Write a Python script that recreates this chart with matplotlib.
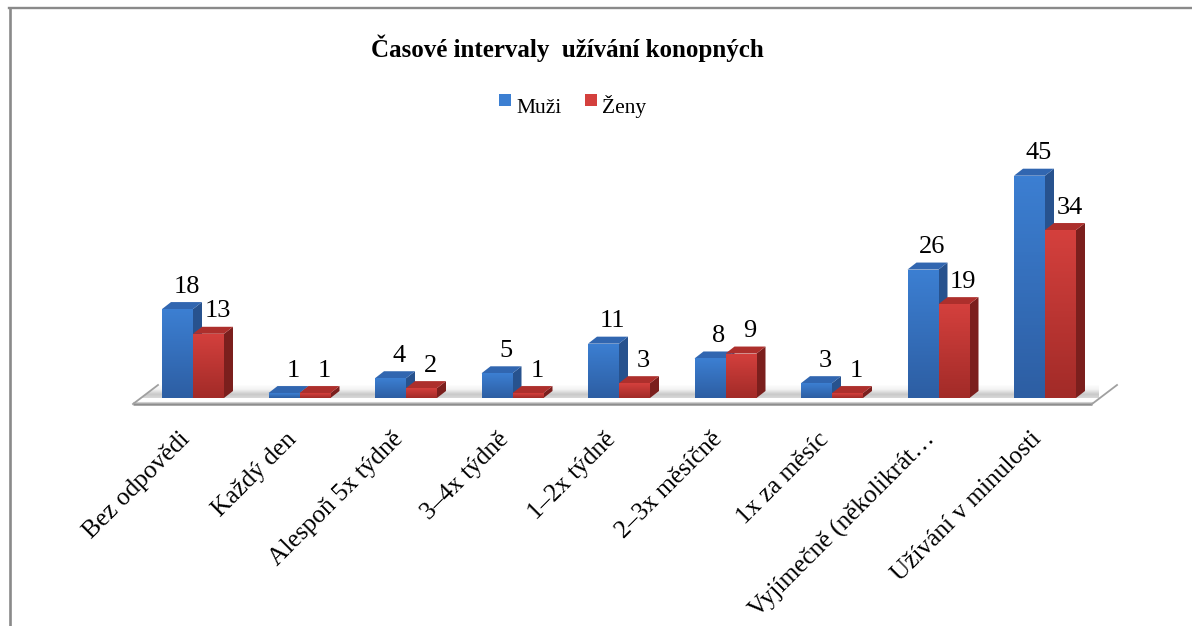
import numpy as np
import matplotlib
matplotlib.use('Agg')
import matplotlib.pyplot as plt
from matplotlib.patches import Polygon, Rectangle
from matplotlib.lines import Line2D
from matplotlib.colors import LinearSegmentedColormap

# ---------------- data ----------------
categories = ["Bez odpovědi", "Každý den", "Alespoň 5x týdně", "3–4x týdně",
              "1–2x týdně", "2–3x měsíčně", "1x za měsíc",
              "Vyjímečně (několikrát…", "Užívání v minulosti"]
muzi = [18, 1, 4, 5, 11, 8, 3, 26, 45]
zeny = [13, 1, 2, 1, 3, 9, 1, 19, 34]
series_names = ["Muži", "Ženy"]
chart_title = "Časové intervaly  užívání konopných"

plt.rcParams['font.family'] = ['Liberation Serif', 'DejaVu Serif']

W, H = 1192, 626
fig = plt.figure(figsize=(W / 100, H / 100), dpi=100)
fig.patch.set_facecolor('white')

ax = fig.add_axes([140.75 / W, 228 / H, 958.5 / W, 247 / H])
ax.set_xlim(-0.5, 8.5)
ax.set_ylim(0, 50)
for s in ax.spines.values():
    s.set_visible(False)
ax.set_yticks([])
ax.patch.set_alpha(0)


def px2data(dxp, dyp):
    inv = ax.transData.inverted()
    p0 = inv.transform((0, 0))
    p1 = inv.transform((dxp, dyp))
    return p1 - p0


ddx, ddy = px2data(9, 7)
fx, fy = px2data(1, 1)

# ---------------- floor ----------------
fl_front = -6 * fy
fl_back = 13 * fy
fl_x0 = -0.5 + (140.75 - 133) * -fx
fl_x1 = 8.5 - (1099.25 - 1092) * fx
fl_shift = 25 * fx
floor_poly = Polygon([(fl_x0, fl_front), (fl_x1, fl_front),
                      (fl_x1 + fl_shift, fl_back), (fl_x0 + fl_shift, fl_back)],
                     closed=True, facecolor='none', edgecolor='none',
                     clip_on=False, zorder=1)
ax.add_patch(floor_poly)
fcmap = LinearSegmentedColormap.from_list('fl', ['#ffffff', '#f4f4f4', '#c9c9c9', '#dedede', '#ffffff'])
fim = ax.imshow(np.linspace(0, 1, 64).reshape(-1, 1), cmap=fcmap,
                extent=[fl_x0, fl_x1 + fl_shift, fl_front, fl_back],
                origin='upper', aspect='auto', zorder=1, clip_on=True)
fim.set_clip_path(floor_poly)
ax.plot([fl_x0, fl_x1], [fl_front, fl_front], color='#8e8e8e', lw=1.8,
        clip_on=False, zorder=2, solid_capstyle='butt')
ax.plot([fl_x0, fl_x1], [fl_front + 2.2 * fy, fl_front + 2.2 * fy], color='#d0d0d0', lw=0.8,
        clip_on=False, zorder=2)
ax.plot([fl_x0, fl_x0 + fl_shift], [fl_front, fl_back], color='#a0a0a0', lw=1.3,
        clip_on=False, zorder=2)
ax.plot([fl_x1, fl_x1 + fl_shift], [fl_front, fl_back], color='#a0a0a0', lw=1.3,
        clip_on=False, zorder=2)

# ---------------- bars ----------------
w = 31 * fx
styles = [
    dict(top='#3c7fd2', bot='#2d5ea3', side='#27528e', cap='#3166b0'),
    dict(top='#d4403d', bot='#a22b28', side='#7b1f1d', cap='#ad2f2c'),
]
x = np.arange(len(categories))
offsets = [-w / 2 - 1 * fx, w / 2 - 1 * fx]

z = 3
for i in range(len(categories)):
    for k, vals in enumerate([muzi, zeny]):
        v = vals[i]
        st = styles[k]
        x0 = x[i] + offsets[k] - w / 2
        x1 = x0 + w
        # side face
        ax.add_patch(Polygon([(x1, 0), (x1 + ddx, ddy), (x1 + ddx, v + ddy), (x1, v)],
                             closed=True, facecolor=st['side'], edgecolor='none', zorder=z))
        # top face
        ax.add_patch(Polygon([(x0, v), (x1, v), (x1 + ddx, v + ddy), (x0 + ddx, v + ddy)],
                             closed=True, facecolor=st['cap'], edgecolor='none', zorder=z))
        # front face (gradient)
        bar = ax.bar(x0, v, width=w, align='edge', color=st['top'],
                     edgecolor='none', zorder=z)[0]
        cm = LinearSegmentedColormap.from_list('g%d' % k, [st['bot'], st['top']])
        im = ax.imshow(np.linspace(0, 1, 64).reshape(-1, 1), cmap=cm,
                       extent=[x0, x1, 0, v], origin='lower', aspect='auto', zorder=z)
        im.set_clip_path(bar)
        # value label
        ax.annotate(str(v), ((x0 + x1) / 2, v), xytext=(9, 16.5),
                    textcoords='offset pixels', ha='center', va='baseline',
                    fontsize=19, color='black', zorder=z + 1)
        z += 1

ax.set_xlim(-0.5, 8.5)
ax.set_ylim(0, 50)

# ---------------- ticks ----------------
ax.set_xticks(x)
ax.set_xticklabels(categories, rotation=45, ha='right', fontsize=18.3)
ax.tick_params(axis='x', length=0, pad=21.6)

# ---------------- title & legend ----------------
fig.text(567.5 / W, 1 - 57 / H, chart_title, ha='center', va='baseline',
         fontsize=18, fontweight='bold')

leg_x = [499, 585]
for k, name in enumerate(series_names):
    fig.add_artist(Rectangle((leg_x[k] / W, 1 - 106 / H), 12 / W, 12 / H,
                             transform=fig.transFigure,
                             facecolor=styles[k]['top'], edgecolor='none'))
    fig.text((leg_x[k] + 17) / W, 1 - 113 / H, name, ha='left', va='baseline',
             fontsize=15.5)

# ---------------- frame ----------------
fig.add_artist(Line2D([9.7 / W, 9.7 / W], [0, 1 - 7.8 / H], transform=fig.transFigure,
                      color='#8a8a8a', lw=1.9))
fig.add_artist(Line2D([8.8 / W, 1], [1 - 7.8 / H, 1 - 7.8 / H], transform=fig.transFigure,
                      color='#8a8a8a', lw=1.7))

fig.savefig('out.png', dpi=100, facecolor='white')
